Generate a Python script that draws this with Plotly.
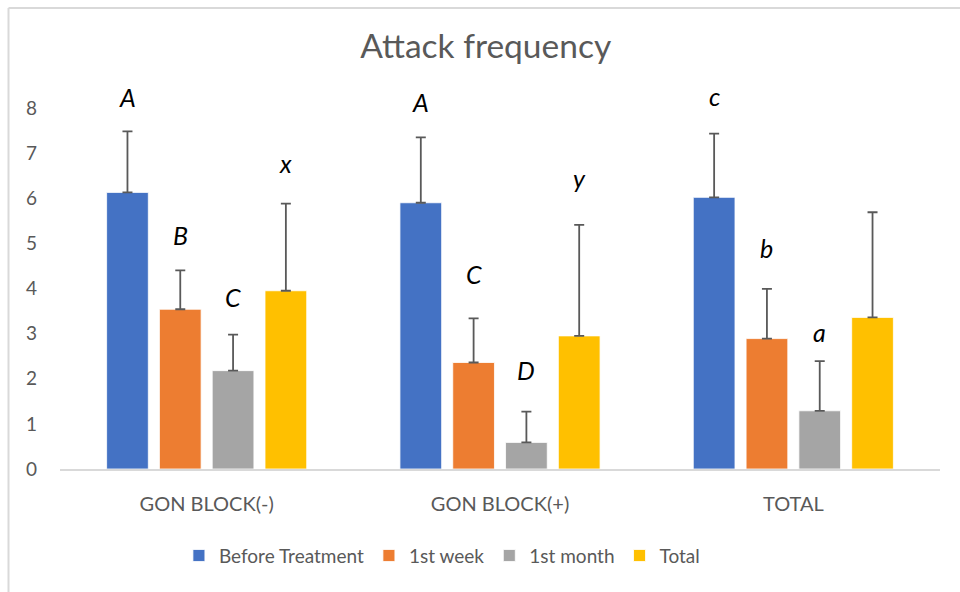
import plotly.graph_objects as go

categories = ["GON BLOCK(-)", "GON BLOCK(+)", "TOTAL"]
series_names = ["Before Treatment", "1st week", "1st month", "Total"]
colors = ["#4472C4", "#ED7D31", "#A5A5A5", "#FFC000"]

before_treatment = [6.13, 5.90, 6.02]
first_week = [3.54, 2.36, 2.89]
first_month = [2.18, 0.59, 1.29]
total = [3.95, 2.95, 3.36]

before_treatment_err = [1.35, 1.45, 1.41]
first_week_err = [0.86, 0.98, 1.10]
first_month_err = [0.80, 0.68, 1.10]
total_err = [1.93, 2.46, 2.33]

# significance letters (baseline level in axis units), per series
before_letters = ["A", "A", "c"]
before_letter_y = [8.03, 7.91, 8.05]
week_letters = ["B", "C", "b"]
week_letter_y = [4.96, 4.09, 4.68]
month_letters = ["C", "D", "a"]
month_letter_y = [3.59, 1.97, 2.82]
total_letters = ["x", "y", ""]
total_letter_y = [6.56, 6.22, 0]

y_max = 8

values = [before_treatment, first_week, first_month, total]
errors = [before_treatment_err, first_week_err, first_month_err, total_err]
letters = [before_letters, week_letters, month_letters, total_letters]
letter_y = [before_letter_y, week_letter_y, month_letter_y, total_letter_y]

FONT = "Lato"
GREY = "#595959"

fig = go.Figure()
for name, col, v, e in zip(series_names, colors, values, errors):
    fig.add_trace(go.Bar(
        name=name, x=categories, y=v,
        marker=dict(color=col, line=dict(color="white", width=0.8)),
        error_y=dict(type="data", array=e, arrayminus=[0] * len(e), symmetric=False,
                     color=GREY, thickness=1.8, width=5),
    ))

bargap = 0.28
slot = (1 - bargap) / len(series_names)
annotations = []
for i, (labs, ys) in enumerate(zip(letters, letter_y)):
    off = (i - (len(series_names) - 1) / 2) * slot
    for c, (lab, yy) in enumerate(zip(labs, ys)):
        if not lab:
            continue
        annotations.append(dict(
            x=c + off, y=yy / y_max, xref="x", yref="paper", text="<i>%s</i>" % lab,
            showarrow=False, yanchor="bottom", yshift=-7,
            font=dict(family=FONT, size=25, color="black"),
        ))

top_y = 1 + (108 - 8) / 361
left_x = (8.5 - 60) / 880
right_x = 1 + 20 / 880

fig.update_layout(
    width=960, height=592,
    margin=dict(l=60, r=20, t=108, b=123),
    paper_bgcolor="white", plot_bgcolor="white",
    barmode="group", bargap=bargap, bargroupgap=0.21,
    title=dict(text="Attack frequency", x=0.506, xanchor="center", y=0.922, yanchor="middle",
               font=dict(family=FONT, size=33.5, color=GREY)),
    font=dict(family=FONT, color=GREY, size=19),
    showlegend=True,
    legend=dict(orientation="h", x=0.434, xanchor="center", y=-0.24, yanchor="middle",
                font=dict(family=FONT, size=19, color=GREY), traceorder="normal"),
    xaxis=dict(showgrid=False, showline=True, linecolor="#D9D9D9", linewidth=1.5,
               ticks="", ticklabelstandoff=16, tickfont=dict(family=FONT, size=20, color=GREY)),
    yaxis=dict(range=[0, y_max], dtick=1, showgrid=False, zeroline=False, showline=False,
               ticks="", ticklabelstandoff=22, tickfont=dict(family=FONT, size=19, color=GREY)),
    annotations=annotations,
    shapes=[
        dict(type="line", xref="paper", yref="paper", x0=left_x, x1=left_x,
             y0=-0.4, y1=top_y, line=dict(color="#D9D9D9", width=2)),
        dict(type="line", xref="paper", yref="paper", x0=left_x, x1=right_x,
             y0=top_y, y1=top_y, line=dict(color="#D9D9D9", width=2)),
    ],
)

fig.write_html("out.html", config={"displayModeBar": False},
               post_script="document.body.style.margin='0px';document.body.style.overflow='hidden';"
                           "document.documentElement.style.overflow='hidden';")
